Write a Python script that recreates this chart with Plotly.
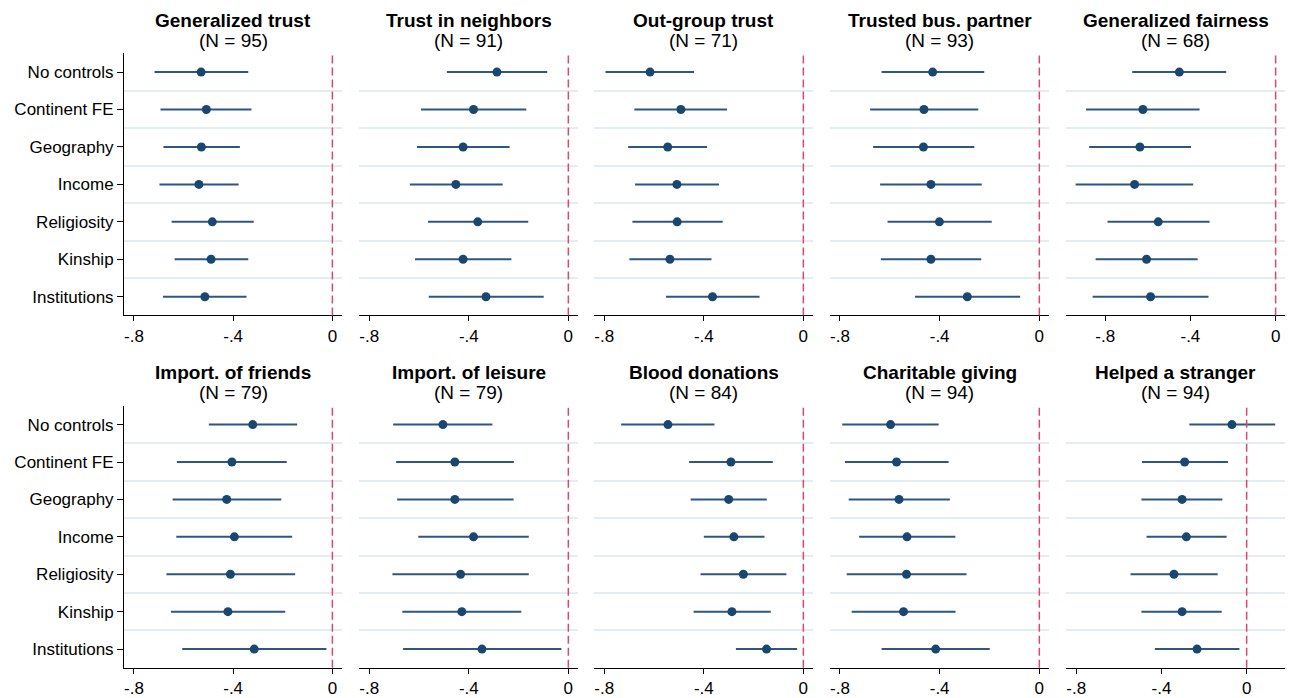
import plotly.graph_objects as go

# Model specifications (rows, top to bottom)
specs = ["No controls", "Continent FE", "Geography", "Income",
         "Religiosity", "Kinship", "Institutions"]

# Outcome panels
outcomes = ["Generalized trust", "Trust in neighbors", "Out-group trust",
            "Trusted bus. partner", "Generalized fairness",
            "Import. of friends", "Import. of leisure", "Blood donations",
            "Charitable giving", "Helped a stranger"]
n_obs = [95, 91, 71, 93, 68, 79, 79, 84, 94, 94]

# Point estimates and 95% confidence bounds, one list per outcome
gen_trust_est = [-0.529, -0.508, -0.528, -0.538, -0.484, -0.489, -0.514]
gen_trust_lo = [-0.717, -0.693, -0.681, -0.697, -0.648, -0.636, -0.683]
gen_trust_hi = [-0.339, -0.326, -0.373, -0.378, -0.317, -0.339, -0.346]

neighbors_est = [-0.287, -0.381, -0.423, -0.452, -0.364, -0.423, -0.331]
neighbors_lo = [-0.488, -0.592, -0.608, -0.637, -0.564, -0.616, -0.561]
neighbors_hi = [-0.085, -0.169, -0.236, -0.264, -0.161, -0.229, -0.099]

outgroup_est = [-0.616, -0.492, -0.545, -0.508, -0.507, -0.536, -0.365]
outgroup_lo = [-0.795, -0.679, -0.704, -0.676, -0.687, -0.699, -0.552]
outgroup_hi = [-0.439, -0.307, -0.387, -0.339, -0.324, -0.369, -0.176]

bus_partner_est = [-0.428, -0.463, -0.465, -0.435, -0.401, -0.435, -0.289]
bus_partner_lo = [-0.633, -0.679, -0.667, -0.639, -0.609, -0.636, -0.499]
bus_partner_hi = [-0.221, -0.245, -0.261, -0.231, -0.191, -0.233, -0.077]

fairness_est = [-0.452, -0.623, -0.637, -0.662, -0.551, -0.606, -0.587]
fairness_lo = [-0.673, -0.890, -0.875, -0.939, -0.789, -0.845, -0.859]
fairness_hi = [-0.232, -0.357, -0.397, -0.387, -0.310, -0.366, -0.315]

friends_est = [-0.321, -0.405, -0.426, -0.395, -0.411, -0.421, -0.315]
friends_lo = [-0.498, -0.627, -0.644, -0.629, -0.669, -0.651, -0.605]
friends_hi = [-0.142, -0.184, -0.206, -0.162, -0.150, -0.190, -0.024]

leisure_est = [-0.504, -0.456, -0.456, -0.381, -0.433, -0.428, -0.347]
leisure_lo = [-0.704, -0.692, -0.688, -0.603, -0.707, -0.667, -0.664]
leisure_hi = [-0.305, -0.219, -0.220, -0.159, -0.159, -0.189, -0.028]

blood_est = [-0.544, -0.291, -0.300, -0.279, -0.241, -0.287, -0.148]
blood_lo = [-0.732, -0.459, -0.453, -0.400, -0.413, -0.441, -0.271]
blood_hi = [-0.357, -0.123, -0.147, -0.156, -0.068, -0.131, -0.025]

charity_est = [-0.597, -0.573, -0.563, -0.531, -0.533, -0.545, -0.416]
charity_lo = [-0.791, -0.780, -0.765, -0.723, -0.773, -0.753, -0.633]
charity_hi = [-0.404, -0.364, -0.359, -0.337, -0.292, -0.336, -0.199]

stranger_est = [-0.069, -0.291, -0.303, -0.283, -0.341, -0.303, -0.233]
stranger_lo = [-0.269, -0.491, -0.494, -0.470, -0.545, -0.494, -0.431]
stranger_hi = [0.134, -0.088, -0.114, -0.094, -0.136, -0.117, -0.034]

x_ticks = [-0.8, -0.4, 0]
x_tick_text = ["-.8", "-.4", "0"]

panels = [
    (gen_trust_est, gen_trust_lo, gen_trust_hi),
    (neighbors_est, neighbors_lo, neighbors_hi),
    (outgroup_est, outgroup_lo, outgroup_hi),
    (bus_partner_est, bus_partner_lo, bus_partner_hi),
    (fairness_est, fairness_lo, fairness_hi),
    (friends_est, friends_lo, friends_hi),
    (leisure_est, leisure_lo, leisure_hi),
    (blood_est, blood_lo, blood_hi),
    (charity_est, charity_lo, charity_hi),
    (stranger_est, stranger_lo, stranger_hi),
]

# Axis ranges per panel (wider where intervals reach further)
x_ranges = [[-0.84, 0.04]] * 10
x_ranges[4] = [-0.984, 0.044]
x_ranges[9] = [-0.848, 0.18]

W, H = 1294, 698
col_px = [(124, 342.3), (359.3, 578.3), (594.3, 813.3), (830, 1049.3), (1066, 1285)]
row_px = [(53.8, 318.2), (409.4, 673.6)]
title_px = [(21, 40.5), (375.5, 396)]

NAVY = "#1a476f"
BAR = "#2d5782"
RED = "#d9486e"
GRID = "#e2edf4"
FONT = "Liberation Sans, Arial, sans-serif"

pos = list(range(1, len(specs) + 1))

fig = go.Figure()
layout = dict(
    width=W, height=H,
    margin=dict(l=0, r=0, t=0, b=0),
    paper_bgcolor="white", plot_bgcolor="white",
    showlegend=False,
    font=dict(family=FONT, size=17, color="black"),
    annotations=[], shapes=[],
)

for k, (est, lo, hi) in enumerate(panels):
    r, c = divmod(k, 5)
    sfx = "" if k == 0 else str(k + 1)
    xa, ya = "x" + sfx, "y" + sfx

    fig.add_trace(go.Scatter(
        x=est, y=pos, mode="markers",
        xaxis=xa, yaxis=ya,
        marker=dict(color=NAVY, size=9),
        error_x=dict(type="data", symmetric=False,
                     array=[h - e for h, e in zip(hi, est)],
                     arrayminus=[e - l for e, l in zip(est, lo)],
                     color=BAR, thickness=2, width=0),
    ))

    x0, x1 = col_px[c]
    y0, y1 = row_px[r]
    layout["xaxis" + sfx] = dict(
        domain=[x0 / W, x1 / W], anchor=ya, range=x_ranges[k],
        showline=True, linecolor="black", linewidth=1,
        ticks="outside", ticklen=5, tickcolor="black",
        tickvals=x_ticks, ticktext=x_tick_text,
        tickfont=dict(size=17), showgrid=False, zeroline=False,
    )
    first_col = c == 0
    layout["yaxis" + sfx] = dict(
        domain=[1 - y1 / H, 1 - y0 / H], anchor=xa, range=[7.5, 0.5],
        showline=first_col, linecolor="black", linewidth=1,
        ticks="outside" if first_col else "", ticklen=6, tickcolor="black",
        tickvals=pos, ticktext=specs, showticklabels=first_col,
        tickfont=dict(size=17), showgrid=False, zeroline=False,
        minor=dict(tickvals=[p + 0.5 for p in pos[:-1]], showgrid=True,
                   gridcolor=GRID, gridwidth=1.5, ticks=""),
    )

    # reference line at zero
    layout["shapes"].append(dict(
        type="line", xref=xa, yref=ya + " domain", x0=0, x1=0, y0=0, y1=1,
        line=dict(color=RED, width=1.5, dash="8px,4px"), layer="above",
    ))

    cx = (x0 + x1) / 2 / W
    t1, t2 = title_px[r]
    layout["annotations"].append(dict(
        text="<b>" + outcomes[k] + "</b>", x=cx, y=1 - t1 / H,
        xref="paper", yref="paper", xanchor="center", yanchor="middle",
        showarrow=False, font=dict(size=19, family=FONT, color="black"),
    ))
    layout["annotations"].append(dict(
        text="(N = %d)" % n_obs[k], x=cx, y=1 - t2 / H,
        xref="paper", yref="paper", xanchor="center", yanchor="middle",
        showarrow=False, font=dict(size=19, family=FONT, color="black"),
    ))

fig.update_layout(**layout)
fig.write_html("out.html")
